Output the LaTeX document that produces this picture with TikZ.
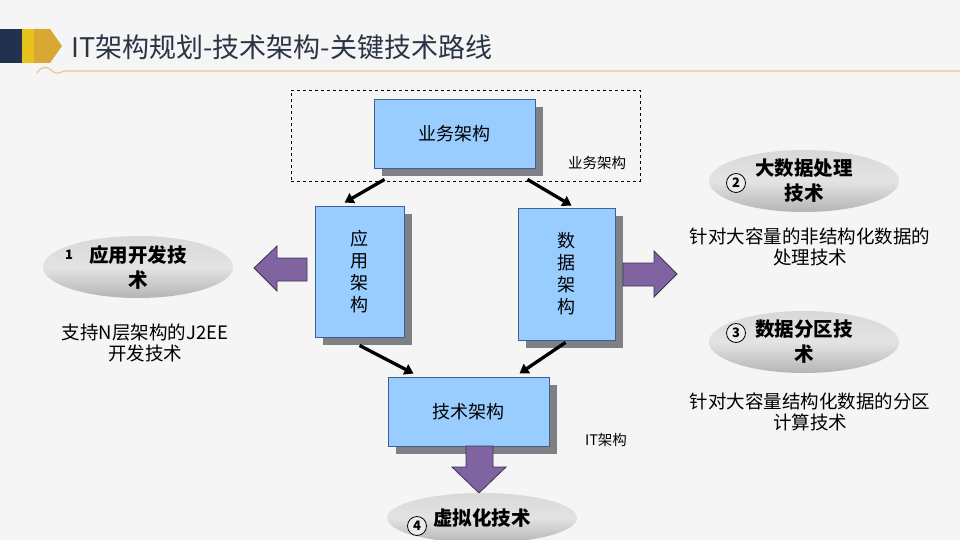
\documentclass[tikz,border=0pt]{standalone}
\usepackage{fontspec}
\setmainfont{Noto Sans CJK SC}
\usetikzlibrary{arrows.meta,shapes.geometric,shadows}

\definecolor{pagebg}{HTML}{F5F5F5}
\definecolor{navy}{HTML}{22314F}
\definecolor{barYellow}{HTML}{E6C21A}
\definecolor{barGold}{HTML}{D9A733}
\definecolor{titleInk}{HTML}{2B3445}
\definecolor{rule}{HTML}{E2CB8A}
\definecolor{boxFill}{HTML}{99CCFF}
\definecolor{boxLine}{HTML}{3F5F8C}
\definecolor{boxShadow}{HTML}{7F7F86}
\definecolor{blockArrow}{HTML}{8064A2}
\definecolor{blockEdge}{HTML}{3F3151}

\tikzset{
  archbox/.style={draw=boxLine, fill=boxFill, line width=0.9pt, inner sep=0pt,
    align=center, font=\fontsize{18}{22}\selectfont,
    drop shadow={shadow xshift=8pt, shadow yshift=-8pt, fill=boxShadow, opacity=1}},
  tag/.style={font=\fontsize{14.5}{17}\selectfont, inner sep=0pt},
  conn/.style={line width=3.3pt, -{Triangle[length=9pt,width=11pt]}},
  keytech/.style={ellipse, minimum width=190pt, minimum height=62pt, inner sep=0pt,
    top color=gray!30, bottom color=gray!58, middle color=gray!22, align=center,
    font=\fontsize{19.5}{25}\selectfont\bfseries},
  numdot/.style={circle, draw, line width=0.8pt, fill=gray!15, inner sep=0pt,
    minimum size=19pt, font=\fontsize{13}{13}\selectfont\bfseries},
  note/.style={align=center, font=\fontsize{18.5}{21.5}\selectfont, inner sep=0pt},
  block/.style={fill=blockArrow, draw=blockEdge, line width=0.8pt, line join=miter}
}

\begin{document}
\begin{tikzpicture}[x=1pt, y=-1pt]
\useasboundingbox (0,0) rectangle (960,540);
\fill[pagebg] (0,0) rectangle (960,540);

% title bar
\fill[navy] (0,29) rectangle (22,63);
\fill[barYellow] (22,29) rectangle (34,63);
\fill[barGold] (34,29) -- (50,29) -- (62,46) -- (50,63) -- (34,63) -- cycle;
\node[anchor=west, font=\fontsize{27}{31}\selectfont, text=titleInk, inner sep=0pt] (title) at (71,47) {IT架构规划-技术架构-关键技术路线};
\draw[rule, line width=1.2pt] (37,73) .. controls (42,66) and (46,66) .. (51,70) .. controls (55,74) and (59,74) .. (64,71) -- (960,71);

% architecture layers
\node[draw, dashed, line width=0.6pt, minimum width=349pt, minimum height=91pt, inner sep=0pt] (bizzone) at (465.5,135.5) {};
\node[archbox, minimum width=161pt, minimum height=69pt] (biz) at (454.5,133.5) {业务架构};
\node[tag] (bizlbl) at (597,163) {业务架构};
\node[archbox, minimum width=89pt, minimum height=131pt] (app) at (359.5,271.5) {应\\用\\架\\构};
\node[archbox, minimum width=97pt, minimum height=132pt] (data) at (566.5,274) {数\\据\\架\\构};
\node[archbox, minimum width=161pt, minimum height=69pt] (tech) at (468.5,411.5) {技术架构};
\node[tag] (itlbl) at (606,440) {IT架构};

\draw[conn] ([xshift=11pt,yshift=-11pt]biz.south west) -- ([xshift=30pt,yshift=3pt]app.north west);
\draw[conn] ([xshift=-8pt,yshift=-11pt]biz.south east) -- ([xshift=54pt,yshift=2pt]data.north west);
\draw[conn] ([xshift=45pt,yshift=-8pt]app.south west) -- ([xshift=26pt,yshift=3pt]tech.north west);
\draw[conn] ([xshift=48pt,yshift=-2pt]data.south west) -- ([xshift=-30pt,yshift=3pt]tech.north east);

% block arrows
\draw[block] (254,268) -- (277,246) -- (277,258) -- (307,258) -- (307,281) -- (277,281) -- (277,291) -- cycle;
\draw[block] (677,274) -- (654,251) -- (654,263) -- (623,263) -- (623,286) -- (654,286) -- (654,297) -- cycle;
\draw[block] (479,493) -- (452,467) -- (466,467) -- (466,446) -- (493,446) -- (493,467) -- (506,467) -- cycle;

% key technologies
\node[keytech] (devtech) at (138,267) {应用开发技\\术};
\node[font=\fontsize{13}{13}\selectfont\bfseries, inner sep=0pt] (n1) at (69,255) {1};
\node[note] (devnote) at (145,343) {支持N层架构的J2EE\\开发技术};

\node[keytech] (bigdata) at (804,181) {大数据处理\\技术};
\node[numdot] (n2) at (736,183) {2};
\node[note] (bignote) at (810,247) {针对大容量的非结构化数据的\\处理技术};

\node[keytech] (partition) at (804,342) {数据分区技\\术};
\node[numdot] (n3) at (736,333) {3};
\node[note] (partnote) at (810,412) {针对大容量结构化数据的分区\\计算技术};

\node[keytech, minimum height=50pt] (virt) at (482,518) {虚拟化技术};
\node[numdot] (n4) at (417,526) {4};
\end{tikzpicture}
\end{document}
